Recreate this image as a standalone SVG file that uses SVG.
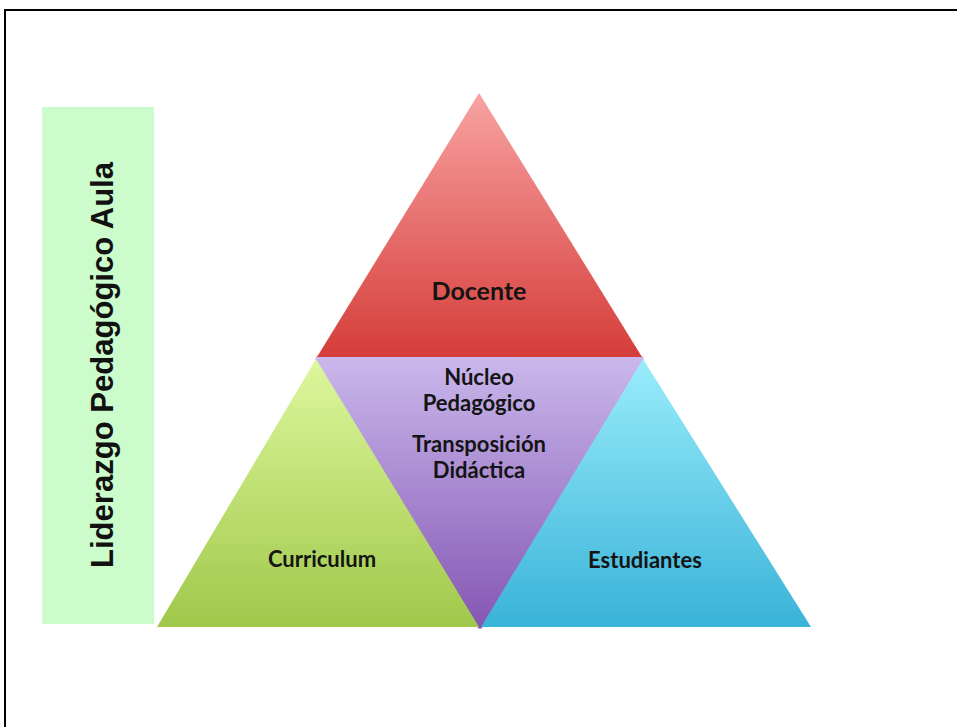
<svg xmlns="http://www.w3.org/2000/svg" width="957" height="727" viewBox="0 0 957 727">
<style>
.lbl{font-family:Lato,"Open Sans","Liberation Sans",sans-serif;font-weight:700;font-size:22px;fill:#141414;text-anchor:middle}
.side{font-family:"Liberation Sans",Arial,sans-serif;font-weight:700;font-size:31px;fill:#111;text-anchor:middle}
</style>
<defs>
<linearGradient id="gRed" x1="0" y1="0" x2="0" y2="1"><stop offset="0" stop-color="#f8a3a3"/><stop offset="1" stop-color="#d53d39"/></linearGradient>
<linearGradient id="gPur" x1="0" y1="0" x2="0" y2="1"><stop offset="0" stop-color="#cab8ec"/><stop offset="1" stop-color="#8556b3"/></linearGradient>
<linearGradient id="gGrn" x1="0" y1="0" x2="0" y2="1"><stop offset="0" stop-color="#ddf79d"/><stop offset="1" stop-color="#a0c84a"/></linearGradient>
<linearGradient id="gBlu" x1="0" y1="0" x2="0" y2="1"><stop offset="0" stop-color="#9aecfb"/><stop offset="1" stop-color="#39b3d8"/></linearGradient>
</defs>
<rect width="957" height="727" fill="#fff"/>
<path d="M5,727 V10 H957" fill="none" stroke="#000" stroke-width="2"/>
<g id="sidebar">
<rect x="42" y="107" width="112" height="517" fill="#ccfccc"/>
<text class="side" transform="translate(113,365) rotate(-90)" textLength="406" lengthAdjust="spacingAndGlyphs">Liderazgo Pedagógico Aula</text>
</g>
<g id="nucleo">
<polygon points="316.5,356 642.5,356 644,359.5 481.5,628.5 478.5,628.5 315,359.5" fill="url(#gPur)"/>
<text class="lbl" x="479" y="385">Núcleo</text>
<text class="lbl" x="479" y="411">Pedagógico</text>
<text class="lbl" x="479" y="452">Transposición</text>
<text class="lbl" x="479" y="478">Didáctica</text>
</g>
<g id="curriculum">
<polygon points="316,359 157,627 479,627" fill="url(#gGrn)"/>
<text class="lbl" x="322" y="567">Curriculum</text>
</g>
<g id="estudiantes">
<polygon points="643,359 481,627 811,627" fill="url(#gBlu)"/>
<text class="lbl" x="645" y="568">Estudiantes</text>
</g>
<g id="docente">
<polygon points="479,93 317,357 642,357" fill="url(#gRed)"/>
<text class="lbl" x="479" y="300" style="font-size:25px">Docente</text>
</g>
<g id="connectors"/>
</svg>
